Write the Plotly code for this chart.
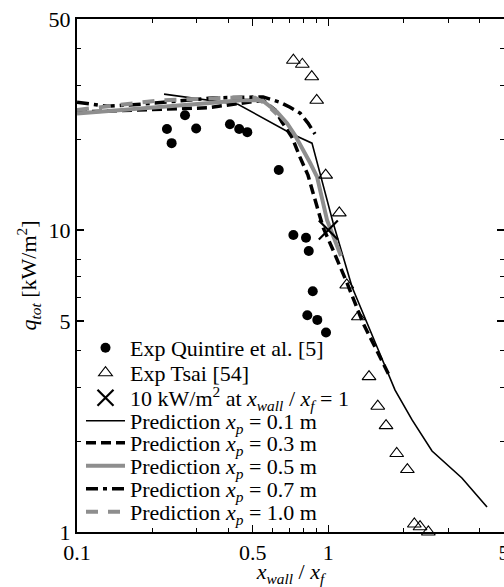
import plotly.graph_objects as go

# ---------------- data ----------------
quintire_x = [0.228, 0.238, 0.269, 0.298, 0.406, 0.442, 0.476, 0.635, 0.726, 0.815, 0.836, 0.867, 0.825, 0.904, 0.979]
quintire_y = [21.6, 19.4, 24.0, 21.7, 22.4, 21.6, 21.1, 15.8, 9.63, 9.43, 8.52, 6.27, 5.22, 5.04, 4.58]

tsai_x = [0.726, 0.788, 0.859, 0.899, 0.976, 1.106, 1.184, 1.316, 1.452, 1.573, 1.697, 1.871, 2.063, 2.199, 2.317, 2.50]
tsai_y = [36.5, 35.4, 32.2, 26.9, 15.2, 11.4, 6.58, 5.16, 3.27, 2.61, 2.25, 1.82, 1.61, 1.063, 1.041, 1.00]

crit_x = [1.0]
crit_y = [10.0]

pred01_x = [0.222, 0.437, 0.717, 0.861, 1.044, 1.243, 1.563, 1.843, 2.154, 2.586, 3.40, 4.28]
pred01_y = [28.2, 26.1, 20.8, 19.4, 10.6, 6.48, 4.10, 2.95, 2.35, 1.855, 1.51, 1.21]

pred03_x = [0.1, 0.329, 0.550, 0.614, 0.654, 0.717, 0.772, 0.830, 0.869, 0.953, 1.044, 1.187, 1.374, 1.506, 1.760]
pred03_y = [24.6, 25.4, 26.9, 25.0, 22.8, 20.3, 17.4, 15.2, 13.3, 10.2, 8.59, 6.68, 4.92, 4.23, 3.26]

pred05_x = [0.1, 0.208, 0.329, 0.449, 0.545, 0.625, 0.685, 0.737, 0.786, 0.846, 0.902, 0.988, 1.123]
pred05_y = [24.3, 25.4, 26.3, 26.9, 26.9, 24.6, 22.6, 20.6, 18.8, 16.7, 15.0, 10.8, 8.20]

pred07_x = [0.1, 0.1316, 0.1798, 0.348, 0.550, 0.642, 0.704, 0.772, 0.830, 0.885]
pred07_y = [26.5, 25.7, 26.1, 27.4, 27.6, 26.5, 25.5, 24.4, 22.6, 20.8]

pred10_x = [0.1, 0.214, 0.395, 0.511, 0.560, 0.625]
pred10_y = [25.0, 26.9, 27.4, 27.4, 26.3, 24.2]

x_major = [0.1, 0.5, 1, 5]
x_major_text = ["0.1", "0.5", "1", "5"]
x_minor = [0.2, 0.3, 0.4, 0.6, 0.7, 0.8, 0.9, 2, 3, 4]
y_major = [1, 5, 10, 50]
y_major_text = ["1", "5", "10", "50"]
y_minor = [2, 3, 4, 6, 7, 8, 20, 30, 40]

FONT = "Liberation Serif, Times New Roman, serif"
FS = 22
GRAY = "#8e8e8e"
XF = "<i>x</i><sub><i>wall</i></sub> / <i>x</i><sub><i>f</i></sub>"

fig = go.Figure()

fig.add_trace(go.Scatter(x=pred01_x, y=pred01_y, mode="lines", legend="legend4",
                         line=dict(color="black", width=1.6),
                         name="Prediction <i>x</i><sub><i>p</i></sub> = 0.1 m"))
fig.add_trace(go.Scatter(x=pred03_x, y=pred03_y, mode="lines", legend="legend5",
                         line=dict(color="black", width=3.5, dash="10px,5px"),
                         name="Prediction <i>x</i><sub><i>p</i></sub> = 0.3 m"))
fig.add_trace(go.Scatter(x=pred05_x, y=pred05_y, mode="lines", legend="legend6",
                         line=dict(color=GRAY, width=4),
                         name="Prediction <i>x</i><sub><i>p</i></sub> = 0.5 m"))
fig.add_trace(go.Scatter(x=pred07_x, y=pred07_y, mode="lines", legend="legend7",
                         line=dict(color="black", width=3.5, dash="12px,5px,4px,5px"),
                         name="Prediction <i>x</i><sub><i>p</i></sub> = 0.7 m"))
fig.add_trace(go.Scatter(x=pred10_x, y=pred10_y, mode="lines", legend="legend8",
                         line=dict(color=GRAY, width=4, dash="12px,10px"),
                         name="Prediction <i>x</i><sub><i>p</i></sub> = 1.0 m"))

fig.add_trace(go.Scatter(x=quintire_x, y=quintire_y, mode="markers", legend="legend",
                         marker=dict(symbol="circle", size=10, color="black"),
                         name="Exp Quintire et al. [5]"))
fig.add_trace(go.Scatter(x=tsai_x, y=tsai_y, mode="markers", legend="legend2", cliponaxis=False,
                         marker=dict(symbol="triangle-up-open", size=12, color="black",
                                     line=dict(width=1.1, color="black")),
                         name="Exp Tsai [54]"))
fig.add_trace(go.Scatter(x=crit_x, y=crit_y, mode="markers", legend="legend3",
                         marker=dict(symbol="x-thin-open", size=19, color="black",
                                     line=dict(width=2.2, color="black")),
                         name="10 kW/m<sup>2</sup> at " + XF + " = 1"))

# legends, one row each, positioned like the reference rows
row_y = [0.3587, 0.310, 0.2612, 0.2164, 0.1735, 0.1287, 0.0838, 0.039]
names = ["legend", "legend2", "legend3", "legend4", "legend5", "legend6", "legend7", "legend8"]
leg_x = (81 - 77) / 427
for nm, yy in zip(names, row_y):
    fig.update_layout({nm: dict(x=leg_x, y=yy, xanchor="left", yanchor="middle",
                                bgcolor="rgba(0,0,0,0)", borderwidth=0, itemwidth=39,
                                font=dict(family=FONT, size=FS, color="black"))})

axis_common = dict(type="log", showgrid=False, zeroline=False, showline=True,
                   linecolor="black", linewidth=2, mirror="allticks",
                   ticks="inside", ticklen=7, tickwidth=1.2, tickcolor="black",
                   ticklabeloverflow="allow",
                   tickfont=dict(family=FONT, size=FS, color="black"))

fig.update_xaxes(**axis_common, range=[-1, 0.69900], tickmode="array",
                 tickvals=x_major, ticktext=x_major_text,
                 minor=dict(tickmode="array", tickvals=x_minor, ticks="inside", ticklen=4,
                            tickwidth=1, tickcolor="black", showgrid=False),
                 title=dict(text=XF, font=dict(family=FONT, size=FS, color="black"), standoff=2))
fig.update_yaxes(**axis_common, range=[0, 1.69897], tickmode="array",
                 tickvals=y_major, ticktext=y_major_text,
                 minor=dict(tickmode="array", tickvals=y_minor, ticks="inside", ticklen=4,
                            tickwidth=1, tickcolor="black", showgrid=False),
                 title=dict(text="<i>q</i><sub><i>tot</i></sub> [kW/m<sup>2</sup>]",
                            font=dict(family=FONT, size=FS, color="black"), standoff=6))

fig.update_layout(width=504, height=587, margin=dict(l=77, r=0, t=19, b=55, autoexpand=False),
                  plot_bgcolor="white", paper_bgcolor="white",
                  font=dict(family=FONT, size=FS, color="black"), showlegend=True)

fig.write_html("out.html", config={"displayModeBar": False, "staticPlot": True},
               post_script="document.body.style.margin='0';document.body.style.padding='0';"
                           "document.documentElement.style.overflow='hidden';")
